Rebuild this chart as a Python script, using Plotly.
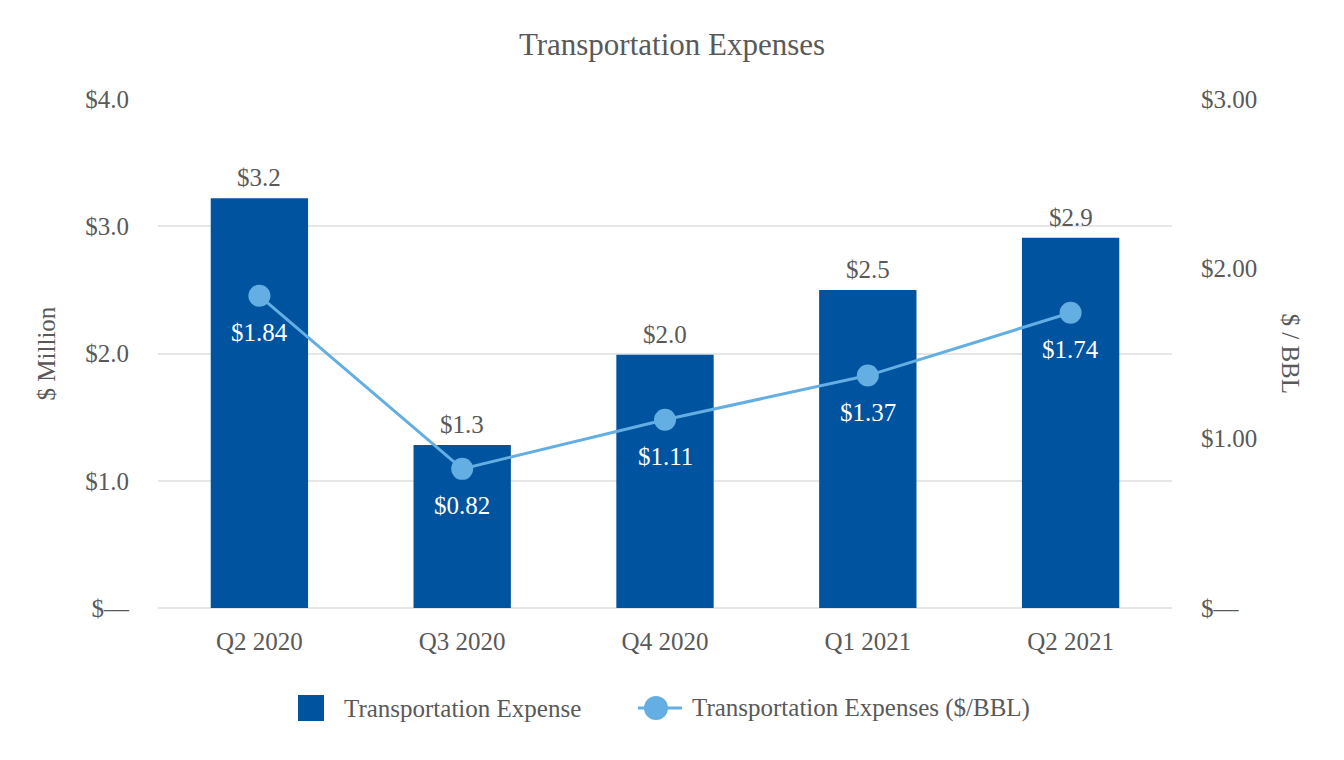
import plotly.graph_objects as go

quarters = ["Q2 2020", "Q3 2020", "Q4 2020", "Q1 2021", "Q2 2021"]
expense_million = [3.22, 1.28, 1.99, 2.50, 2.91]
expense_per_bbl = [1.84, 0.82, 1.11, 1.37, 1.74]

left_tickvals = [0, 1, 2, 3, 4]
left_ticktext = ["$\u2014", "$1.0", "$2.0", "$3.0", "$4.0"]
right_tickvals = [0, 1, 2, 3]
right_ticktext = ["$\u2014", "$1.00", "$2.00", "$3.00"]

FONT = "Liberation Serif, Times New Roman, serif"
GRAY = "#595959"
BAR = "#00539f"
LINE = "#63aee2"
FS = 25

# plot area in pixels (for placing the legend in paper coords)
L, R, T, B = 158, 1172, 99, 608
def px(xp):
    return (xp - L) / (R - L)
def py(yp):
    return (B - yp) / (B - T)

fig = go.Figure()
fig.add_trace(go.Bar(
    x=quarters, y=expense_million, name="Transportation Expense",
    marker=dict(color=BAR, line=dict(width=0)),
    showlegend=False,
))
fig.add_trace(go.Scatter(
    x=quarters, y=expense_per_bbl, name="Transportation Expenses ($/BBL)",
    yaxis="y2", mode="lines+markers",
    line=dict(color=LINE, width=3),
    marker=dict(color=LINE, size=22),
    showlegend=False,
))
for q, v in zip(quarters, expense_million):
    fig.add_annotation(x=q, y=v, xref="x", yref="y", text=f"${v:.1f}",
                       showarrow=False, yanchor="bottom", yshift=5,
                       font=dict(family=FONT, size=FS, color=GRAY))
for q, v in zip(quarters, expense_per_bbl):
    fig.add_annotation(x=q, y=v, xref="x", yref="y2", text=f"${v:.2f}",
                       showarrow=False, yshift=-37,
                       font=dict(family=FONT, size=FS, color="white"))

fig.add_annotation(text="$ / BBL", xref="paper", yref="paper", x=px(1290), y=0.5,
                   xanchor="center", yanchor="middle",
                   textangle=90, showarrow=False,
                   font=dict(family=FONT, size=FS, color=GRAY))

# legend (drawn manually to match symbol sizes)
ly = py(708)
fig.add_shape(type="rect", xref="paper", yref="paper",
              x0=px(298), x1=px(324), y0=py(721), y1=py(695),
              fillcolor=BAR, line=dict(width=0))
fig.add_annotation(text="Transportation Expense", xref="paper", yref="paper",
                   x=px(342), y=ly, xanchor="left", yanchor="middle", showarrow=False,
                   font=dict(family=FONT, size=FS, color=GRAY))
fig.add_shape(type="line", xref="paper", yref="paper",
              x0=px(638), x1=px(682), y0=ly, y1=ly,
              line=dict(color=LINE, width=3))
fig.add_shape(type="circle", xref="paper", yref="paper",
              x0=px(644), x1=px(668), y0=py(720), y1=py(696),
              fillcolor=LINE, line=dict(width=0))
fig.add_annotation(text="Transportation Expenses ($/BBL)", xref="paper", yref="paper",
                   x=px(690), y=ly, xanchor="left", yanchor="middle", showarrow=False,
                   font=dict(family=FONT, size=FS, color=GRAY))

fig.update_layout(
    width=1344, height=760,
    margin=dict(l=L, r=1344 - R, t=T, b=760 - B),
    paper_bgcolor="white", plot_bgcolor="white",
    font=dict(family=FONT, size=FS, color=GRAY),
    title=dict(text="Transportation Expenses", x=0.5, xanchor="center",
               y=1 - 44 / 760, yanchor="middle",
               font=dict(family=FONT, size=31, color=GRAY)),
    bargap=0.52,
    showlegend=False,
    xaxis=dict(showgrid=False, showline=False, ticks="", ticklabelstandoff=16,
               tickfont=dict(family=FONT, size=FS, color=GRAY)),
    yaxis=dict(range=[0, 4], tickvals=left_tickvals, ticktext=left_ticktext,
               showgrid=True, gridcolor="#e6e6e6", gridwidth=2,
               zeroline=True, zerolinecolor="#e6e6e6", zerolinewidth=2,
               showline=False, ticks="", ticklabelstandoff=28,
               title=dict(text="$ Million", standoff=22,
                          font=dict(family=FONT, size=FS, color=GRAY)),
               tickfont=dict(family=FONT, size=FS, color=GRAY)),
    yaxis2=dict(range=[0, 3], tickvals=right_tickvals, ticktext=right_ticktext,
                overlaying="y", side="right", showgrid=False, zeroline=False,
                showline=False, ticks="", ticklabelstandoff=28,
                tickfont=dict(family=FONT, size=FS, color=GRAY)),
)

fig.write_html("out.html")
